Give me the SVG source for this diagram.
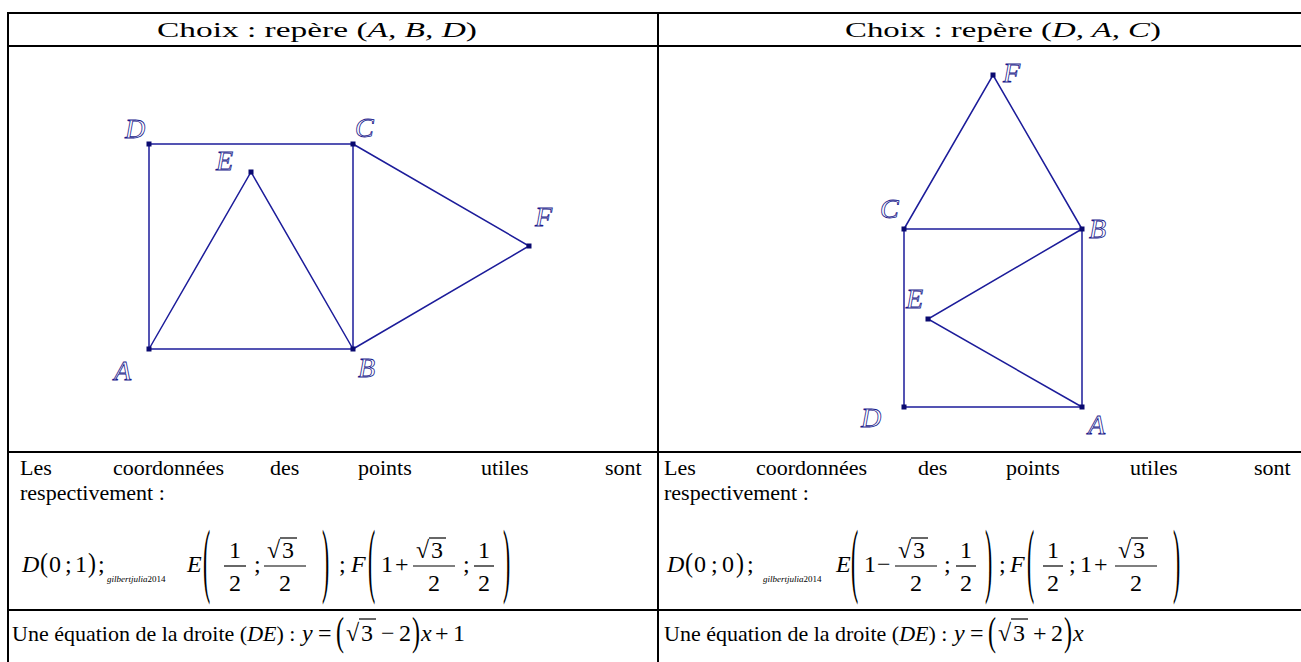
<svg xmlns="http://www.w3.org/2000/svg" width="1301" height="662" viewBox="0 0 1301 662">
<style>
  text{font-family:"Liberation Serif",Tinos,"Times New Roman","DejaVu Serif",serif;fill:#000}
  .t{font-size:22px}
  .h{font-size:20px}
  .m{font-size:24px}
  .i{font-style:italic}
  .s{font-size:9px}
  .lab{font-size:28px;font-style:italic;fill:none;stroke:#1a1a8c;stroke-width:0.8}
  .grid{stroke:#000;stroke-width:2;fill:none}
  .seg{stroke:#1c1c9a;stroke-width:1.5;fill:none}
  .pt{fill:#0a0a70}
  .bar{stroke:#000;stroke-width:1.2}
</style>
<rect width="1301" height="662" fill="#fff"/>
<g id="table" class="grid">
  <line x1="7" y1="13" x2="1301" y2="13"/>
  <line x1="7" y1="46" x2="1301" y2="46"/>
  <line x1="7" y1="452" x2="1301" y2="452"/>
  <line x1="7" y1="610" x2="1301" y2="610"/>
  <line x1="8" y1="12" x2="8" y2="662"/>
  <line x1="658" y1="12" x2="658" y2="662"/>
</g>
<g id="headers">
  <text class="h" x="157" y="37" textLength="320" lengthAdjust="spacingAndGlyphs">Choix : repère (<tspan class="i">A, B, D</tspan>)</text>
  <text class="h" x="845" y="37" textLength="316" lengthAdjust="spacingAndGlyphs">Choix : repère (<tspan class="i">D, A, C</tspan>)</text>
</g>
<g id="connectors">
  <polyline class="seg" points="149,144 353,144 353,349 149,349 149,144"/>
  <polyline class="seg" points="149,349 251,172 353,349"/>
  <polyline class="seg" points="353,144 529,246 353,349"/>
  <polyline class="seg" points="904,229 1082,229 1082,407 904,407 904,229"/>
  <polyline class="seg" points="904,229 993,75 1082,229"/>
  <polyline class="seg" points="1082,229 928,319 1082,407"/>
</g>
<g id="fig1">
  <g id="p1D"><rect class="pt" x="146.5" y="141.5" width="5" height="5"/><text class="lab" x="125" y="138">D</text></g>
  <g id="p1C"><rect class="pt" x="350.5" y="141.5" width="5" height="5"/><text class="lab" x="355" y="137">C</text></g>
  <g id="p1E"><rect class="pt" x="248.5" y="169.5" width="5" height="5"/><text class="lab" x="216" y="170">E</text></g>
  <g id="p1F"><rect class="pt" x="526.5" y="243.5" width="5" height="5"/><text class="lab" x="535" y="226">F</text></g>
  <g id="p1A"><rect class="pt" x="146.5" y="346.5" width="5" height="5"/><text class="lab" x="114" y="380">A</text></g>
  <g id="p1B"><rect class="pt" x="350.5" y="346.5" width="5" height="5"/><text class="lab" x="358" y="377">B</text></g>
</g>
<g id="fig2">
  <g id="p2F"><rect class="pt" x="990.5" y="72.5" width="5" height="5"/><text class="lab" x="1003" y="82">F</text></g>
  <g id="p2C"><rect class="pt" x="901.5" y="226.5" width="5" height="5"/><text class="lab" x="880" y="218">C</text></g>
  <g id="p2B"><rect class="pt" x="1079.5" y="226.5" width="5" height="5"/><text class="lab" x="1089" y="238">B</text></g>
  <g id="p2E"><rect class="pt" x="925.5" y="316.5" width="5" height="5"/><text class="lab" x="906" y="308">E</text></g>
  <g id="p2D"><rect class="pt" x="901.5" y="404.5" width="5" height="5"/><text class="lab" x="861" y="427">D</text></g>
  <g id="p2A"><rect class="pt" x="1079.5" y="404.5" width="5" height="5"/><text class="lab" x="1088" y="434">A</text></g>
</g>
<g id="row3">
  <text class="t" y="475"><tspan x="20">Les</tspan><tspan x="113">coordonnées</tspan><tspan x="270">des</tspan><tspan x="358">points</tspan><tspan x="481">utiles</tspan><tspan x="605">sont</tspan></text>
  <text class="t" x="20" y="500">respectivement :</text>
  <text class="t" y="475"><tspan x="664">Les</tspan><tspan x="756">coordonnées</tspan><tspan x="918">des</tspan><tspan x="1006">points</tspan><tspan x="1130">utiles</tspan><tspan x="1254">sont</tspan></text>
  <text class="t" x="664" y="500">respectivement :</text>
</g>
<g id="formula1">
  <text class="m i" x="22" y="572">D</text>
  <text class="m" transform="translate(40,572) scale(1,1.15)">(</text>
  <text class="m" x="49" y="572">0</text>
  <text class="m" x="65" y="572">;</text>
  <text class="m" x="75" y="572">1</text>
  <text class="m" transform="translate(88,572) scale(1,1.15)">)</text>
  <text class="m" x="98" y="572">;</text>
  <text class="s" x="107" y="582"><tspan class="i">gilbertjulia</tspan>2014</text>
  <text class="m i" x="187" y="572">E</text>
  <text class="m" transform="translate(203,587) scale(0.9,3.4)">(</text>
  <text class="m" x="235" y="558" text-anchor="middle">1</text>
  <line class="bar" x1="224" y1="566" x2="246" y2="566"/>
  <text class="m" x="235" y="591" text-anchor="middle">2</text>
  <text class="m" x="254" y="572">;</text>
  <text class="m" x="267" y="558">√</text>
  <text class="m" x="282" y="558">3</text>
  <line class="bar" x1="280" y1="538" x2="297" y2="538"/>
  <line class="bar" x1="264" y1="566" x2="306" y2="566"/>
  <text class="m" x="285" y="591" text-anchor="middle">2</text>
  <text class="m" transform="translate(322,587) scale(0.9,3.4)">)</text>
  <text class="m" x="339" y="572">;</text>
  <text class="m i" x="351" y="572">F</text>
  <text class="m" transform="translate(368,587) scale(0.9,3.4)">(</text>
  <text class="m" x="381" y="572">1</text>
  <text class="m" x="395" y="572">+</text>
  <text class="m" x="416" y="558">√</text>
  <text class="m" x="431" y="558">3</text>
  <line class="bar" x1="429" y1="538" x2="446" y2="538"/>
  <line class="bar" x1="413" y1="566" x2="455" y2="566"/>
  <text class="m" x="434" y="591" text-anchor="middle">2</text>
  <text class="m" x="463" y="572">;</text>
  <text class="m" x="484" y="558" text-anchor="middle">1</text>
  <line class="bar" x1="474" y1="566" x2="494" y2="566"/>
  <text class="m" x="484" y="591" text-anchor="middle">2</text>
  <text class="m" transform="translate(503,587) scale(0.9,3.4)">)</text>
</g>
<g id="formula2">
  <text class="m i" x="667" y="572">D</text>
  <text class="m" transform="translate(685,572) scale(1,1.15)">(</text>
  <text class="m" x="694" y="572">0</text>
  <text class="m" x="711" y="572">;</text>
  <text class="m" x="722" y="572">0</text>
  <text class="m" transform="translate(736,572) scale(1,1.15)">)</text>
  <text class="m" x="747" y="572">;</text>
  <text class="s" x="763" y="582"><tspan class="i">gilbertjulia</tspan>2014</text>
  <text class="m i" x="836" y="572">E</text>
  <text class="m" transform="translate(851,587) scale(0.9,3.4)">(</text>
  <text class="m" x="864" y="572">1</text>
  <text class="m" x="877" y="572">−</text>
  <text class="m" x="898" y="558">√</text>
  <text class="m" x="913" y="558">3</text>
  <line class="bar" x1="911" y1="538" x2="928" y2="538"/>
  <line class="bar" x1="895" y1="566" x2="937" y2="566"/>
  <text class="m" x="916" y="591" text-anchor="middle">2</text>
  <text class="m" x="944" y="572">;</text>
  <text class="m" x="966" y="558" text-anchor="middle">1</text>
  <line class="bar" x1="956" y1="566" x2="976" y2="566"/>
  <text class="m" x="966" y="591" text-anchor="middle">2</text>
  <text class="m" transform="translate(985,587) scale(0.9,3.4)">)</text>
  <text class="m" x="999" y="572">;</text>
  <text class="m i" x="1010" y="572">F</text>
  <text class="m" transform="translate(1027,587) scale(0.9,3.4)">(</text>
  <text class="m" x="1053" y="558" text-anchor="middle">1</text>
  <line class="bar" x1="1043" y1="566" x2="1063" y2="566"/>
  <text class="m" x="1053" y="591" text-anchor="middle">2</text>
  <text class="m" x="1069" y="572">;</text>
  <text class="m" x="1080" y="572">1</text>
  <text class="m" x="1094" y="572">+</text>
  <text class="m" x="1118" y="558">√</text>
  <text class="m" x="1133" y="558">3</text>
  <line class="bar" x1="1131" y1="538" x2="1148" y2="538"/>
  <line class="bar" x1="1115" y1="566" x2="1157" y2="566"/>
  <text class="m" x="1136" y="591" text-anchor="middle">2</text>
  <text class="m" transform="translate(1173,587) scale(0.9,3.4)">)</text>
</g>
<g id="eq1">
  <text class="t" x="12" y="641">Une équation de la droite (<tspan class="i">DE</tspan>) :</text>
  <text class="m i" x="302" y="641">y</text>
  <text class="m" x="318" y="641">=</text>
  <text class="m" transform="translate(336,645) scale(1,1.65)">(</text>
  <text class="m" x="346" y="641">√</text>
  <text class="m" x="361" y="641">3</text>
  <line class="bar" x1="359" y1="619" x2="376" y2="619"/>
  <text class="m" x="381" y="641">−</text>
  <text class="m" x="399" y="641">2</text>
  <text class="m" transform="translate(412,645) scale(1,1.65)">)</text>
  <text class="m i" x="421" y="641">x</text>
  <text class="m" x="435" y="641">+</text>
  <text class="m" x="453" y="641">1</text>
</g>
<g id="eq2">
  <text class="t" x="664" y="641">Une équation de la droite (<tspan class="i">DE</tspan>) :</text>
  <text class="m i" x="954" y="641">y</text>
  <text class="m" x="970" y="641">=</text>
  <text class="m" transform="translate(988,645) scale(1,1.65)">(</text>
  <text class="m" x="998" y="641">√</text>
  <text class="m" x="1013" y="641">3</text>
  <line class="bar" x1="1011" y1="619" x2="1028" y2="619"/>
  <text class="m" x="1033" y="641">+</text>
  <text class="m" x="1051" y="641">2</text>
  <text class="m" transform="translate(1064,645) scale(1,1.65)">)</text>
  <text class="m i" x="1073" y="641">x</text>
</g>
</svg>
